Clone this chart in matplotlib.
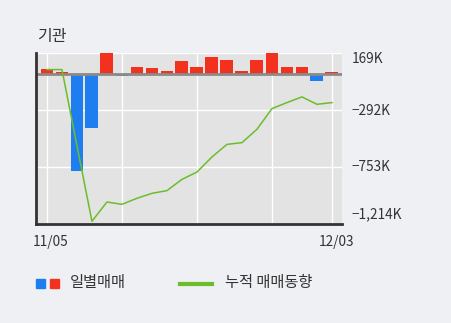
import numpy as np
import matplotlib.pyplot as plt
from matplotlib.patches import Rectangle
from matplotlib.lines import Line2D

plt.rcParams['font.family'] = ['Noto Sans CJK KR', 'DejaVu Sans']

# daily net trading (K shares), cumulative line (K)
daily = [40, 15, -782, -439, 200, -14, 57, 49, 24, 105,
         57, 138, 116, 24, 116, 190, 57, 57, -54, 19]
cumul = [35, 35, -580, -1192, -1036, -1055, -1006, -966, -944, -853,
         -794, -672, -570, -556, -448, -281, -232, -186, -246, -232]
yticks = [169, -292, -753, -1214]
ytick_labels = ['169K', '\u2212292K', '\u2212753K', '\u22121,214K']
xtick_pos = [0, 19]
xtick_labels = ['11/05', '12/03']

RED = '#f2321e'
BLUE = '#1e7ef0'
GREEN = '#6cbd2b'
BG = '#eff0f4'
TXT = '#333333'

fig = plt.figure(figsize=(4.51, 3.23), dpi=100, facecolor=BG)
ax = fig.add_axes([36/451, 1-224/323, (342-36)/451, (224-53)/323])
ax.set_facecolor('#e3e3e3')

x = np.arange(len(daily))
cols = [RED if v >= 0 else BLUE for v in daily]
ax.bar(x, daily, width=0.86, color=cols, zorder=3)
ax.axhline(0, color='#8a8a8a', lw=2, zorder=4)
ax.plot(x, cumul, color=GREEN, lw=1.1, zorder=5)

ax.set_xlim(-0.73, 19.67)
ax.set_ylim(-1214, 169)

for gx in [0, 5, 10, 15, 19]:
    ax.axvline(gx, color='white', lw=1, zorder=1)
for gy in yticks:
    ax.axhline(gy, color='white', lw=1, zorder=1)

for s in ['top', 'right']:
    ax.spines[s].set_visible(False)
for s in ['left', 'bottom']:
    ax.spines[s].set_color(TXT)
    ax.spines[s].set_linewidth(2)
    ax.spines[s].set_zorder(6)

ax.set_yticks([])
ax.set_xticks([])
# right side tick labels
lab_y = [59, 111, 167, 214]
for lab, py in zip(ytick_labels, lab_y):
    fig.text(352/451, 1-py/323, lab, fontsize=9.8, color=TXT,
             va='center', ha='left')
for pos, lab, px in zip(xtick_pos, xtick_labels, [51, 336]):
    fig.text(px/451, 1-242/323, lab, fontsize=9.8, color=TXT,
             va='center', ha='center')

fig.text(37/451, 1-36/323, '기관', fontsize=11.5, color=TXT,
         va='center', ha='left')

# legend
fig.patches.append(Rectangle((36/451, 1-288/323), 9/451, 9/323,
                             transform=fig.transFigure, color=BLUE))
fig.patches.append(Rectangle((50/451, 1-288/323), 9/451, 9/323,
                             transform=fig.transFigure, color=RED))
fig.text(70/451, 1-283/323, '일별매매', fontsize=11, color=TXT,
         va='center', ha='left')
fig.lines.append(Line2D([180/451, 212/451], [1-284/323, 1-284/323],
                        transform=fig.transFigure, color=GREEN, lw=3))
fig.text(225/451, 1-283/323, '누적 매매동향', fontsize=11, color=TXT,
         va='center', ha='left')

fig.savefig('out.png', dpi=100, facecolor=BG)
